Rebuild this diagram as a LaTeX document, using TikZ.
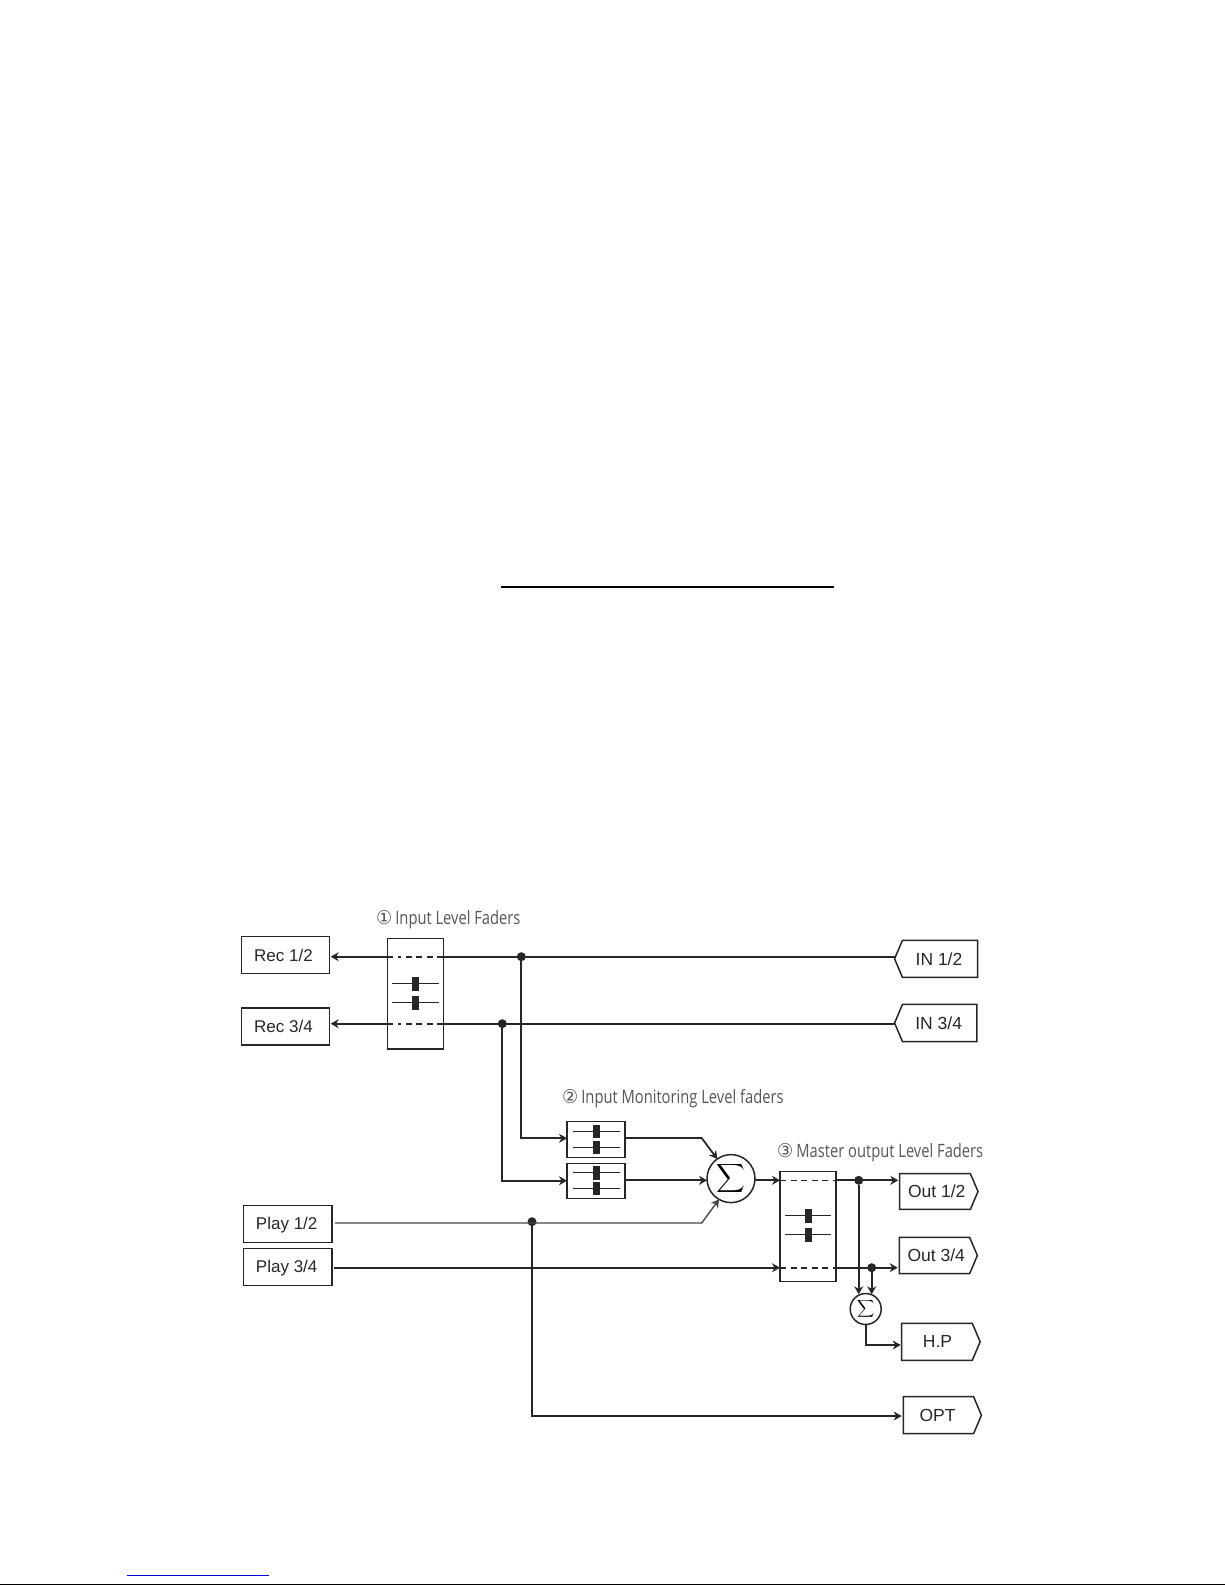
\documentclass[tikz,border=0pt]{standalone}
\usepackage{fontspec}
\usetikzlibrary{arrows.meta,shapes.symbols}
\setmainfont{Liberation Sans}
\newfontfamily\titlefont[FakeStretch=0.80]{Open Sans}
\newfontfamily\circfont[FakeStretch=0.95]{DejaVu Sans}
\definecolor{ink}{HTML}{262626}
\definecolor{titlegray}{HTML}{555555}
\definecolor{linkblue}{HTML}{0000E0}
\newcommand{\circled}[1]{{\circfont\fontsize{19}{20}\selectfont #1}\hspace{3pt}}
\tikzset{
  labelbox/.style={draw=ink,line width=1.5pt,outer sep=0pt,inner sep=0pt,font=\fontsize{17}{18}\selectfont,text=ink},
  faderbox/.style={draw=ink,line width=1.5pt,outer sep=0pt,inner sep=0pt},
  tagout/.style={labelbox,font=\fontsize{17.5}{18}\selectfont,shape=signal,signal to=east,signal pointer angle=134},
  tagin/.style={labelbox,font=\fontsize{17.5}{18}\selectfont,shape=signal,signal to=west,signal pointer angle=134},
  sumnode/.style={circle,draw=ink,line width=1.5pt,outer sep=0pt,inner sep=0pt},
  junction/.style={circle,fill=ink,inner sep=0pt,minimum size=9pt,outer sep=0pt},
  wire/.style={draw=ink,line width=1.8pt},
  midwire/.style={draw=ink,line width=1.7pt},
  thinwire/.style={draw=ink!85,line width=1.35pt},
  tip/.style={-{Stealth[length=8pt,width=9pt]}},
  flow/.style={wire,tip},
  dashwire/.style={draw=ink,line width=1.6pt,dash pattern=on 6pt off 4.5pt},
  knob/.style={fill=ink,draw=none},
  titlelabel/.style={text=titlegray,font=\titlefont\fontsize{18.4}{20}\selectfont,inner sep=0pt,anchor=west}
}
\newcommand{\faderbar}[4]{% x1, x2, y, knob x
  \draw[draw=ink,line width=1.3pt] (#1,#3) -- (#2,#3);
  \fill[knob] (#4-3.5,#3-6.8) rectangle (#4+3.5,#3+6.8);
}
\begin{document}
\begin{tikzpicture}[x=1pt,y=-1pt]
\useasboundingbox (0,0) rectangle (1225,1585);
% page rules
\fill[black] (501,585.7) rectangle (834,587.8);
\fill[linkblue] (127,1574.5) rectangle (268.7,1575.6);
\fill[black] (0,1583.7) rectangle (1225,1585);

% titles
\node[titlelabel] (t1) at (376,919.5) {\circled{①}Input Level Faders};
\node[titlelabel] (t2) at (562,1098.5) {\circled{②}Input Monitoring Level faders};
\node[titlelabel] (t3) at (777,1152.5) {\circled{③}Master output Level Faders};

% label boxes
\node[labelbox,minimum width=88.4pt,minimum height=36.6pt] (rec12) at (285.5,955) {\hspace*{-4pt}\rule{0pt}{14pt}Rec 1/2};
\node[labelbox,minimum width=88.4pt,minimum height=37pt] (rec34) at (285.5,1026.5) {\hspace*{-4pt}Rec 3/4};
\node[labelbox,minimum width=88.7pt,minimum height=37pt] (play12) at (287.7,1223.8) {\hspace*{-2pt}\rule{0pt}{15.5pt}Play 1/2};
\node[labelbox,minimum width=88.7pt,minimum height=36.6pt] (play34) at (287.7,1267) {\hspace*{-2pt}\rule{0pt}{14.5pt}Play 3/4};

% tags
\node[tagin,minimum width=83pt,minimum height=37pt] (in12) at (940,958.8) {\hspace*{-2pt}IN 1/2};
\node[tagin,minimum width=82.3pt,minimum height=37.4pt] (in34) at (939.7,1023) {\hspace*{-2pt}IN 3/4};
\node[tagout,minimum width=78.4pt,minimum height=35.6pt] (out12) at (935,1191.5) {\hspace*{3.5pt}\raisebox{1pt}{Out 1/2}};
\node[tagout,minimum width=78pt,minimum height=36.4pt] (out34) at (934.5,1255.5) {\hspace*{3.5pt}Out 3/4};
\node[tagout,minimum width=78.4pt,minimum height=37pt] (hp) at (937,1341.8) {\hspace*{1pt}H.P};
\node[tagout,minimum width=78pt,minimum height=37pt] (opt) at (938.5,1415.2) {\hspace*{-2pt}OPT};

% fader boxes
\node[faderbox,minimum width=55.6pt,minimum height=110.3pt] (fa) at (415.5,993.8) {};
\node[faderbox,minimum width=58pt,minimum height=36pt] (fb1) at (596,1139.7) {};
\node[faderbox,minimum width=58pt,minimum height=35.4pt] (fb2) at (596,1181) {};
\node[faderbox,minimum width=56pt,minimum height=110pt] (fc) at (808,1226.3) {};
\faderbar{392.3}{438.7}{983.7}{415.7}
\faderbar{392.3}{438.7}{1002.7}{415.7}
\faderbar{572.7}{620}{1131.3}{596}
\faderbar{572.7}{620}{1147.3}{596}
\faderbar{572.7}{620}{1172.7}{596}
\faderbar{572.7}{620}{1188.3}{596}
\faderbar{785.3}{831}{1215.7}{808}
\faderbar{785.3}{831}{1234.7}{808}

% summing nodes
\node[sumnode,minimum size=48pt] (sumA) at (731,1178.6) {\scalebox{2}{$\displaystyle\sum$}};
\node[sumnode,minimum size=31pt] (sumB) at (865.7,1309) {\scalebox{1.2}{$\displaystyle\sum$}};

% junctions
\node[junction] (j1) at (521.3,956.7) {};
\node[junction] (j2) at (502.3,1023.7) {};
\node[junction] (j3) at (532,1221.7) {};
\node[junction] (j4) at (858.7,1180.3) {};
\node[junction] (j5) at (871.7,1267.7) {};

% ports
\coordinate (in12w) at (895,956.7);
\coordinate (in34w) at (895,1023.7);
\coordinate (rec12e) at (330.7,956.7);
\coordinate (rec34e) at (330.7,1023.7);
\coordinate (fa1l) at (393,956.7);  \coordinate (fa1ld) at (398,956.7);
\coordinate (fa1r) at (443.3,956.7);
\coordinate (fa2l) at (393,1023.7); \coordinate (fa2ld) at (398,1023.7);
\coordinate (fa2r) at (443.3,1023.7);
\coordinate (fb1w) at (567,1138.3);
\coordinate (fb2w) at (567,1180.7);
\coordinate (fb1e) at (625,1138);
\coordinate (fb2e) at (625,1180.3);
\coordinate (bendA) at (701.7,1138);
\coordinate (bendB) at (701.7,1223);
\coordinate (sumW) at (707,1180.3);
\coordinate (sumE) at (755,1180.3);
\coordinate (play12e) at (335,1223);
\coordinate (play34e) at (334,1267.7);
\coordinate (fc1w) at (780,1180.3);
\coordinate (fc2w) at (780,1267.7);
\coordinate (fc1e) at (836,1180.3);
\coordinate (fc2e) at (836,1267.7);
\coordinate (out12w) at (898.3,1180.3);
\coordinate (out34w) at (897.7,1267.7);
\coordinate (sumBt1) at (858.7,1294.3);
\coordinate (sumBt2) at (871.7,1294.3);
\coordinate (hpw) at (900.7,1345);
\coordinate (optw) at (901.7,1416);

% connectors
\draw[wire] (in12w) -- (fa1r);
\draw[wire] (in34w) -- (fa2r);
\draw[dashwire] (fa1r) -- (fa1ld);
\draw[dashwire] (fa2r) -- (fa2ld);
\draw[flow] (fa1l) -- (rec12e);
\draw[flow] (fa2l) -- (rec34e);
\draw[flow] (j1) |- (fb1w);
\draw[flow] (j2) |- (fb2w);
\draw[midwire,tip] (fb1e) -- (bendA) -- (sumA.125);
\draw[midwire,tip] (fb2e) -- (sumW);
\draw[thinwire,tip] (play12e) -- (bendB) -- (sumA.240);
\draw[flow] (play34e) -- (fc2w);
\draw[midwire,tip] (sumE) -- (fc1w);
\draw[dashwire] (fc1w) -- (fc1e);
\draw[dashwire] (fc2w) -- (fc2e);
\draw[flow] (fc1e) -- (out12w);
\draw[flow] (fc2e) -- (out34w);
\draw[midwire,tip] (j4) -- (sumBt1);
\draw[midwire,tip] (j5) -- (sumBt2);
\draw[midwire,tip] (sumB.south) |- (hpw);
\draw[flow] (j3) |- (optw);
\end{tikzpicture}
\end{document}
